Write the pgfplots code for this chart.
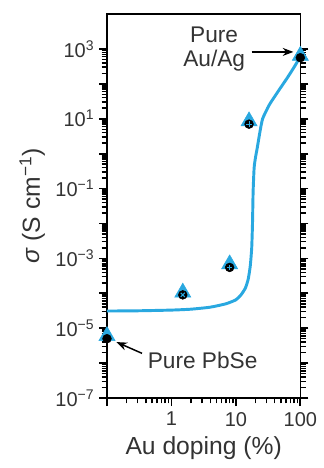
\documentclass[border=0pt]{standalone}
\usepackage{fontspec}
\setmainfont{Liberation Sans}
\usepackage{pgfplots}
\pgfplotsset{compat=1.18}
\usetikzlibrary{arrows.meta}
\definecolor{cblue}{HTML}{29A8E0}
\begin{document}
\begin{tikzpicture}
\begin{axis}[
  scale only axis, width=145pt, height=288pt,
  xmode=log, ymode=log,
  xmin=0.1, xmax=100, ymin=1e-7, ymax=1e4,
  clip=false,
  axis line style={line width=1.1pt},
  tick align=outside,
  xtick pos=left,
  ytick pos=both,
  major tick length=6pt, minor tick length=4pt,
  major tick style={black, line width=1.3pt},
  minor tick style={black, line width=1.1pt},
  xtickten={-1,0,1,2},
  xticklabels={,1,10,100},
  ytickten={-7,-6,-5,-4,-3,-2,-1,0,1,2,3},
  yticklabels={10\textsuperscript{−7},,10\textsuperscript{−5},,10\textsuperscript{−3},,10\textsuperscript{−1},,10\textsuperscript{1},,10\textsuperscript{3}},
  ticklabel style={font=\fontsize{15}{17}\selectfont, text=black!80},
  xticklabel style={yshift=-1pt},
  yticklabel style={xshift=0pt},
  xlabel={Au doping (\%)},
  ylabel={\textit{σ} (S cm\textsuperscript{−1})},
  label style={font=\fontsize{18.5}{20}\selectfont, text=black!80},
  xlabel style={yshift=-1pt},
  ylabel style={yshift=1pt},
]
% fitted curve
\addplot[cblue, line width=2.2pt, smooth, tension=0.35] coordinates {
 (0.1,3.1e-5) (0.3,3.15e-5) (1,3.3e-5) (2,3.5e-5) (4,4e-5) (7,5e-5) (10,6.5e-5) (12,9e-5) (14,1.4e-4) (15.5,2.5e-4) (16.7,6e-4) (17.6,2e-3) (18.1,1e-2) (18.5,0.08) (19.2,0.4) (20.2,0.8) (21.5,1.5) (23.5,4) (26,10) (33,25) (45,60) (63,150) (80,300) (100,600)
};
% data: blue triangles
\addplot[only marks, mark=triangle*, mark size=7pt, color=cblue] coordinates {
 (0.1,6e-6) (1.5,1.05e-4) (8,6.8e-4) (16,8.5) (100,640)
};
% black circles
\addplot[only marks, mark=*, mark size=3.3pt, color=black] coordinates {
 (0.1,5.0e-6) (1.5,9e-5) (8,5.5e-4) (16,7) (100,560)
};
\addplot[only marks, mark=+, mark size=2pt, color=cblue, line width=0.8pt] coordinates {
 (8,5.5e-4) (16,7)
};
\addplot[only marks, mark=x, mark size=2.2pt, color=cblue, line width=0.8pt] coordinates {
 (1.5,9e-5)
};
% annotations
\node[align=center, font=\fontsize{17}{18.5}\selectfont, text=black!80] at (axis cs:4.6,1000) {Pure\\Au/Ag};
\draw[-{Stealth[length=8pt,width=6pt]}, line width=1.1pt] (axis cs:17.5,820) -- (axis cs:78,820);
\node[font=\fontsize{17}{18.5}\selectfont, text=black!80] at (axis cs:3.05,1.2e-6) {Pure PbSe};
\draw[-{Stealth[length=8pt,width=6pt]}, line width=1.1pt] (axis cs:0.35,1.9e-6) -- (axis cs:0.14,4.0e-6);
\end{axis}
\path[use as bounding box] (-80.25pt,-52.5pt) rectangle (162.75pt,298.5pt);
\end{tikzpicture}
\end{document}
